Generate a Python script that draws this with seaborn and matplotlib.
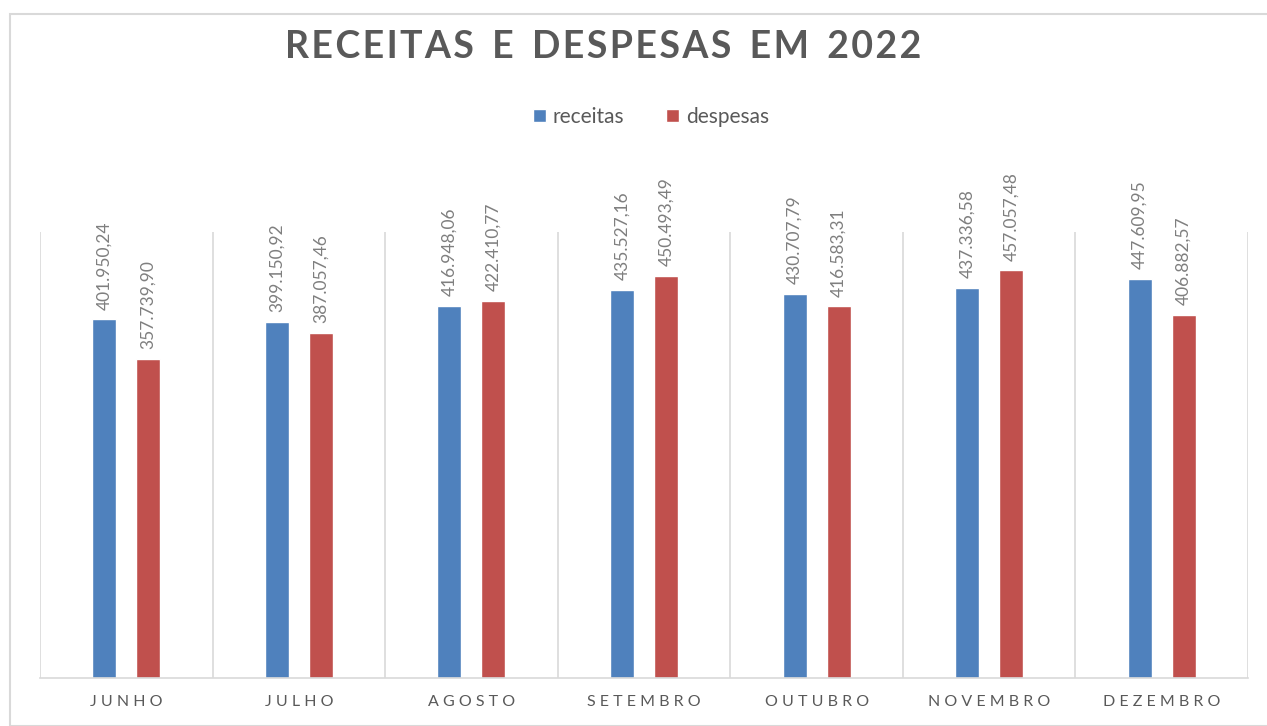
import pandas as pd
import seaborn as sns
import matplotlib.pyplot as plt
from matplotlib.patches import Rectangle

# dados do grafico
meses = ['JUNHO', 'JULHO', 'AGOSTO', 'SETEMBRO', 'OUTUBRO', 'NOVEMBRO', 'DEZEMBRO']
receitas = [401950.24, 399150.92, 416948.06, 435527.16, 430707.79, 437336.58, 447609.95]
despesas = [357739.90, 387057.46, 422410.77, 450493.49, 416583.31, 457057.48, 406882.57]
series = ['receitas', 'despesas']
cores = ['#4f81bd', '#c0504d']
titulo = 'RECEITAS E DESPESAS EM 2022'


def formatar(valor):
    """Formata no padrao brasileiro: 401.950,24"""
    txt = f"{valor:,.2f}"
    return txt.replace(',', 'X').replace('.', ',').replace('X', '.')


def espacar(texto):
    return ' '.join(texto)


def espacar_fino(texto):
    # espaco fino entre letras, espaco duplo entre palavras
    return '  '.join('\u200a'.join(p) for p in texto.split(' '))


df = pd.DataFrame({
    'mes': meses * 2,
    'valor': receitas + despesas,
    'serie': ['receitas'] * len(meses) + ['despesas'] * len(meses),
})

sns.set_style('white')
plt.rcParams['font.family'] = ['Lato', 'DejaVu Sans']

fig = plt.figure(figsize=(12.67, 7.26), dpi=100)
ax = fig.add_axes([40 / 1267, 48 / 726, 1208 / 1267, 446 / 726])

sns.barplot(data=df, x='mes', y='valor', hue='serie', hue_order=series,
            palette=cores, width=0.51, gap=0.455, saturation=1,
            ax=ax, legend=True)

for cont in ax.containers:
    ax.bar_label(cont, labels=[formatar(v) for v in cont.datavalues],
                 rotation=90, padding=7, color='#7f7f7f', fontsize=12.5)

ax.set_ylim(0, 500000)
ax.set_xlim(-0.5, len(meses) - 0.5)
ax.set_yticks([])
ax.set_xticks(range(len(meses)))
ax.set_xticklabels([espacar(m) for m in meses], color='#595959', fontsize=11.5)
ax.set_xticks([i - 0.5 for i in range(len(meses) + 1)], minor=True)
ax.tick_params(axis='x', which='both', length=0, pad=12)
ax.grid(which='minor', axis='x', color='#d9d9d9', linewidth=1.2)
ax.set_xlabel('')
ax.set_ylabel('')
for lado in ['top', 'left', 'right']:
    ax.spines[lado].set_visible(False)
ax.spines['bottom'].set_color('#d9d9d9')
ax.spines['bottom'].set_linewidth(1.2)

leg = ax.legend(loc='center', bbox_to_anchor=(651 / 1267, 1 - 117 / 726),
                bbox_transform=fig.transFigure, ncol=2, frameon=False,
                fontsize=15, handlelength=0.6, handleheight=0.6,
                handletextpad=0.35, columnspacing=2.0)
for t in leg.get_texts():
    t.set_color('#595959')

fig.text(603 / 1267, 1 - 47 / 726, espacar_fino(titulo),
         ha='center', va='center', fontsize=27, fontweight='bold',
         color='#595959')

# borda do grafico
fig.patches.append(Rectangle((10 / 1267, 0), 1.0, 1 - 14 / 726,
                             transform=fig.transFigure, fill=False,
                             edgecolor='#d9d9d9', linewidth=1.5))

plt.savefig('out.png')
plt.close()
